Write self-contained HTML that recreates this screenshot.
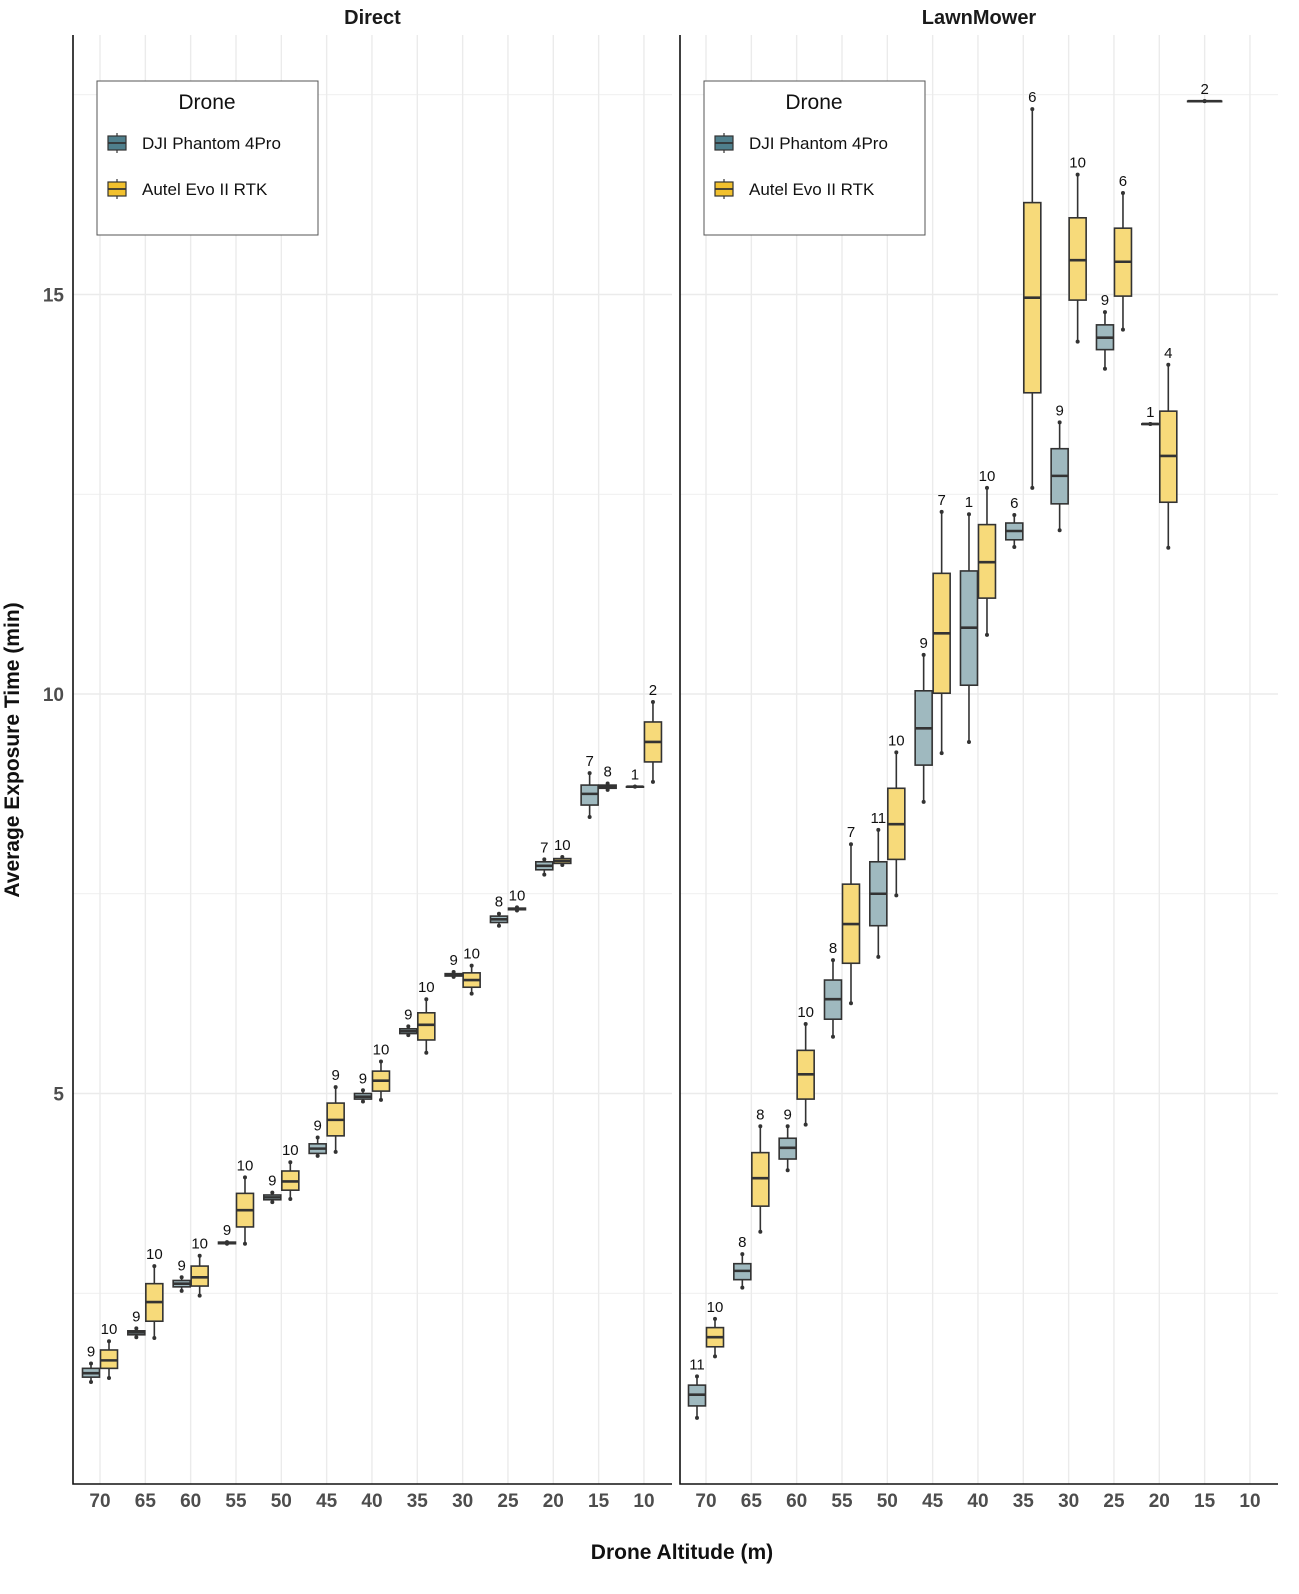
<!DOCTYPE html>
<html><head><meta charset="utf-8"><style>
html,body{margin:0;padding:0;background:#fff;overflow:hidden;width:1299px;height:1594px}
svg{display:block}
svg text{font-family:"Liberation Sans",Arial,sans-serif}
</style></head><body>
<svg id="chart" width="1299" height="1594" xmlns="http://www.w3.org/2000/svg"></svg>
<script>
const categories=["70","65","60","55","50","45","40","35","30","25","20","15","10"];
const yTicks=[5,10,15];
// [lo,q1,med,q3,hi,n] per category, null = missing
const directDJI=[[1.39,1.45,1.50,1.56,1.62,9],[1.95,1.98,2.01,2.03,2.06,9],[2.53,2.58,2.62,2.66,2.7,9],[3.12,3.12,3.13,3.14,3.14,9],[3.64,3.67,3.70,3.73,3.76,9],[4.22,4.25,4.31,4.37,4.45,9],[4.9,4.93,4.96,5.0,5.04,9],[5.73,5.75,5.78,5.81,5.84,9],[6.46,6.47,6.48,6.50,6.52,9],[7.1,7.14,7.18,7.22,7.25,8],[7.74,7.8,7.85,7.9,7.93,7],[8.46,8.61,8.75,8.86,9.01,7],[8.84,8.84,8.84,8.84,8.84,1]];
const directAutel=[[1.44,1.56,1.66,1.79,1.9,10],[1.94,2.15,2.39,2.62,2.84,10],[2.47,2.59,2.70,2.84,2.97,10],[3.12,3.33,3.54,3.75,3.95,10],[3.68,3.79,3.90,4.03,4.14,10],[4.27,4.47,4.67,4.88,5.08,9],[4.92,5.03,5.16,5.28,5.4,10],[5.51,5.67,5.86,6.01,6.18,10],[6.25,6.33,6.42,6.51,6.6,10],[7.29,7.3,7.31,7.32,7.33,10],[7.86,7.88,7.91,7.94,7.96,10],[8.8,8.82,8.84,8.86,8.88,8],[8.9,9.15,9.40,9.65,9.9,2]];
const lawnDJI=[[0.94,1.09,1.23,1.35,1.46,11],[2.57,2.67,2.78,2.87,2.99,8],[4.04,4.18,4.32,4.44,4.59,9],[5.71,5.93,6.18,6.42,6.67,8],[6.71,7.1,7.5,7.9,8.3,11],[8.65,9.11,9.57,10.04,10.49,9],[9.4,10.11,10.83,11.54,12.25,1],[11.84,11.93,12.04,12.14,12.24,6],[12.05,12.38,12.73,13.07,13.4,9],[14.07,14.31,14.46,14.62,14.78,9],[13.38,13.38,13.38,13.38,13.38,1],null,null];
const lawnAutel=[[1.71,1.83,1.95,2.07,2.18,10],[3.27,3.59,3.94,4.26,4.59,8],[4.61,4.93,5.24,5.54,5.87,10],[6.13,6.63,7.12,7.62,8.12,7],[7.48,7.93,8.37,8.82,9.27,10],[9.26,10.01,10.76,11.51,12.28,7],[10.74,11.2,11.65,12.12,12.58,10],[12.58,13.77,14.96,16.15,17.32,6],[14.41,14.93,15.43,15.96,16.5,10],[14.56,14.98,15.41,15.83,16.27,6],[11.83,12.4,12.98,13.54,14.12,4],[17.42,17.42,17.42,17.42,17.42,2],null];

const NS="http://www.w3.org/2000/svg";
const svg=document.getElementById('chart');
function mk(tag,attrs,parent){const e=document.createElementNS(NS,tag);for(const k in attrs)e.setAttribute(k,attrs[k]);(parent||svg).appendChild(e);return e;}
const yScale=v=>694-(v-10)*79.9;
const TOP=35,BOT=1484;
const panels=[{name:"Direct",x0:73,x1:672,c0:100,dji:directDJI,aut:directAutel,key:"direct"},
              {name:"LawnMower",x0:680,x1:1278,c0:706,dji:lawnDJI,aut:lawnAutel,key:"lawnmower"}];
const step=45.33;
const blueFill="#9fb9bf",yelFill="#f7da7a",stroke="#333";

panels.forEach(p=>{
  const xScale=i=>p.c0+i*step;
  const g=mk('g',{});
  
  
  for(let v=2.5;v<=17.5;v+=2.5){
    const gl=mk('line',{x1:p.x0,x2:p.x1,y1:yScale(v),y2:yScale(v),stroke:"#ebebeb","stroke-width":v%5===0?1.4:0.8},g);
    
    
  }
  categories.forEach((c,i)=>{
    const gl=mk('line',{x1:xScale(i),x2:xScale(i),y1:TOP,y2:BOT,stroke:"#ebebeb","stroke-width":1.4},g);
    
    
    const t=mk('text',{x:xScale(i),y:1507,"text-anchor":"middle","font-size":19,"font-weight":"bold",fill:"#4d4d4d"},g);
    t.textContent=c;
    
    
  });
  const ax=mk('path',{d:`M${p.x0},${TOP}V${BOT}H${p.x1}`,fill:"none",stroke:"#111","stroke-width":1.6},g);
  
  
  const st=mk('text',{x:(p.x0+p.x1)/2,y:24,"text-anchor":"middle","font-size":20,"font-weight":"bold",fill:"#1a1a1a"},g);
  st.textContent=p.name;
  
  
  categories.forEach((c,i)=>{
    const d=p.dji[i],a=p.aut[i];
    const solo=!(d&&a);
    [[d,-9,blueFill,'dji'],[a,9,yelFill,'autel']].forEach(([b,off,fill,nm])=>{
      if(!b)return;
      const cx=xScale(i)+(solo?0:off);
      const hw=solo?17:8.5;
      const bg=mk('g',{},g);
      
      
      mk('line',{x1:cx,x2:cx,y1:yScale(b[0]),y2:yScale(b[4]),stroke:stroke,"stroke-width":1.6},bg);
      mk('circle',{cx:cx,cy:yScale(b[0]),r:2,fill:stroke},bg);
      mk('circle',{cx:cx,cy:yScale(b[4]),r:2,fill:stroke},bg);
      const h=Math.max(yScale(b[1])-yScale(b[3]),0.5);
      mk('rect',{x:cx-hw,y:yScale(b[3]),width:hw*2,height:h,fill:fill,stroke:stroke,"stroke-width":1.6},bg);
      mk('line',{x1:cx-hw,x2:cx+hw,y1:yScale(b[2]),y2:yScale(b[2]),stroke:stroke,"stroke-width":2.6},bg);
      const t=mk('text',{x:cx,y:yScale(b[4])-7,"text-anchor":"middle","font-size":15,fill:"#111"},bg);
      t.textContent=b[5];
      
      
    });
  });
  const lx=p.x0+24,ly=81;
  const lg=mk('g',{},g);
  
  
  mk('rect',{x:lx,y:ly,width:221,height:154,fill:"#fff",stroke:"#555","stroke-width":1},lg);
  const lt=mk('text',{x:lx+110,y:ly+28,"text-anchor":"middle","font-size":21,fill:"#111"},lg);
  lt.textContent="Drone";
  [["DJI Phantom 4Pro","#4f7f8c",62],["Autel Evo II RTK","#f2c12e",108]].forEach(([lab,col,dy])=>{
    const e=mk('g',{},lg);
    
    
    mk('line',{x1:lx+20,x2:lx+20,y1:ly+dy-10,y2:ly+dy+10,stroke:stroke,"stroke-width":1.2},e);
    mk('rect',{x:lx+11,y:ly+dy-7,width:18,height:14,fill:col,stroke:stroke,"stroke-width":1.2},e);
    mk('line',{x1:lx+11,x2:lx+29,y1:ly+dy,y2:ly+dy,stroke:stroke,"stroke-width":1.8},e);
    const tt=mk('text',{x:lx+45,y:ly+dy+6,"font-size":17,fill:"#111"},e);
    tt.textContent=lab;
  });
});
yTicks.forEach(v=>{
  const t=mk('text',{x:64,y:yScale(v)+7,"text-anchor":"end","font-size":19,"font-weight":"bold",fill:"#4d4d4d"});
  t.textContent=v;
  
  
});
const yt=mk('text',{x:0,y:0,transform:"translate(19,750) rotate(-90)","text-anchor":"middle","font-size":21,"font-weight":"bold",fill:"#111"});
yt.textContent="Average Exposure Time (min)";


const xt=mk('text',{x:682,y:1559,"text-anchor":"middle","font-size":21,"font-weight":"bold",fill:"#111"});
xt.textContent="Drone Altitude (m)";


</script>
</body></html>
